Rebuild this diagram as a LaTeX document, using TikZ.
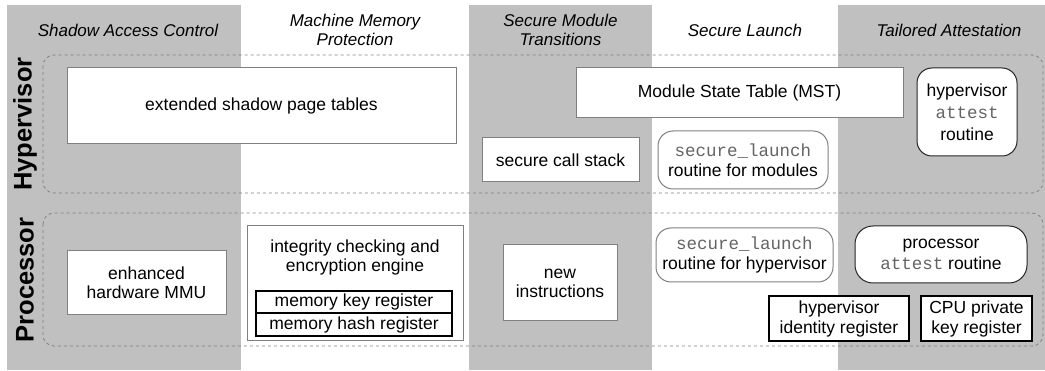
\documentclass[tikz,border=0pt]{standalone}
\usepackage{fontspec}
\setmainfont{Liberation Sans}
\setmonofont{Liberation Mono}
\definecolor{colgray}{RGB}{192,192,192}
\definecolor{bordergray}{RGB}{128,128,128}
\definecolor{monogray}{RGB}{100,100,100}
\newcommand{\mono}[1]{{\ttfamily\color{monogray}#1}}
\begin{document}
\begin{tikzpicture}[x=1pt,y=-1pt,
  every node/.style={font=\fontsize{17.5}{19}\selectfont, inner sep=0pt, align=center},
  header/.style={font=\fontsize{17}{19}\selectfont\itshape},
  rowlabel/.style={font=\fontsize{25.5}{28}\selectfont\bfseries, rotate=90},
  plainbox/.style={draw=bordergray, line width=1pt, fill=white},
  roundbox/.style={draw=bordergray, line width=1pt, fill=white, rounded corners=15pt},
  darkround/.style={draw=black!85, line width=1pt, fill=white, rounded corners=15pt},
  regbox/.style={draw=black, line width=2.6pt, fill=white},
  group/.style={draw=bordergray, dashed, line width=0.8pt, rounded corners=11pt}
]
\useasboundingbox (0,0) rectangle (1045,371);
\fill[white] (0,0) rectangle (1045,371);
% column stripes
\fill[colgray] (7,5) rectangle (241,370);
\fill[colgray] (469,5) rectangle (652,370);
\fill[colgray] (838,5) rectangle (1045,370);
% headers
\node[header] (h1) at (128,30) {Shadow Access Control};
\node[header, font=\fontsize{17}{19}\selectfont\itshape] (h2) at (355,29.5) {Machine Memory\\Protection};
\node[header, font=\fontsize{17}{19}\selectfont\itshape] (h3) at (560.5,29.5) {Secure Module\\Transitions};
\node[header] (h4) at (745,30) {Secure Launch};
\node[header] (h5) at (949,30) {Tailored Attestation};
% group boxes
\draw[group] (43,55) rectangle (1043,193);
\draw[group] (43,213) rectangle (1043,346);
\node[rowlabel] (hyp) at (25,124) {Hypervisor};
\node[rowlabel] (proc) at (25,280) {Processor};
% hypervisor row
\node[plainbox, minimum width=389pt, minimum height=76pt] (espt) at (261.5,106) {extended shadow page tables};
\node[plainbox, minimum width=327pt, minimum height=50pt] (mst) at (739.5,93) {Module State Table (MST)};
\node[darkround, minimum width=100pt, minimum height=88pt, font=\fontsize{17.5}{22}\selectfont] (hatt) at (967,112) {hypervisor\\\mono{attest}\\routine};
\node[plainbox, minimum width=157pt, minimum height=44pt] (scs) at (560.5,160) {secure call stack};
\node[roundbox, minimum width=170pt, minimum height=58pt, font=\fontsize{17.5}{20}\selectfont] (slm) at (743,160) {\mono{secure\_launch}\\routine for modules};
% processor row
\node[plainbox, minimum width=159pt, minimum height=64pt] (mmu) at (146.5,283) {enhanced\\hardware MMU};
\node[plainbox, minimum width=216pt, minimum height=115pt] (ice) at (355,283.5) {};
\node (icet) at (355,257) {integrity checking and\\encryption engine};
\node[regbox, minimum width=196pt, minimum height=22pt] (mkr) at (354,302) {memory key register};
\node[regbox, minimum width=196pt, minimum height=23pt] (mhr) at (354,324.5) {memory hash register};
\node[plainbox, minimum width=114pt, minimum height=76pt] (newi) at (560,283) {new\\instructions};
\node[roundbox, minimum width=177pt, minimum height=54pt, font=\fontsize{17.5}{20}\selectfont] (slh) at (744.5,255) {\mono{secure\_launch}\\routine for hypervisor};
\node[darkround, minimum width=172pt, minimum height=57pt, rounded corners=18pt, font=\fontsize{17.5}{21}\selectfont] (patt) at (941,254.5) {processor\\\mono{attest} routine};
\node[regbox, minimum width=140pt, minimum height=45pt, font=\fontsize{17.5}{20}\selectfont] (hir) at (839,318.5) {hypervisor\\identity register};
\node[regbox, minimum width=111pt, minimum height=45pt, font=\fontsize{17.5}{20}\selectfont] (cpk) at (976.5,318.5) {CPU private\\key register};
\end{tikzpicture}
\end{document}
